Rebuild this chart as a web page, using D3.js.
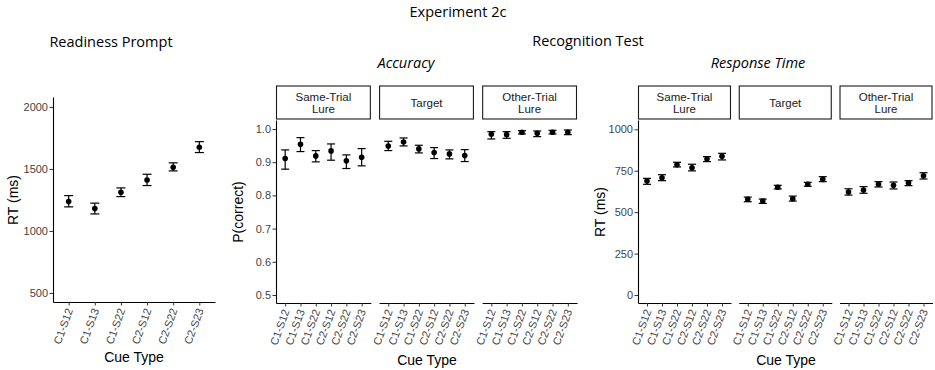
<!DOCTYPE html>
<html>
<head>
<meta charset="UTF-8">
<script src="https://cdn.jsdelivr.net/npm/d3@7"></script>
<style>
  body { margin: 0; background: #fff; }
  svg text { font-family: "Liberation Sans", Arial, sans-serif; }
  .ttl { font-family: "Open Sans", "Noto Sans", sans-serif; }
</style>
</head>
<body>
<script>
var cueTypes = ['C1-S12', 'C1-S13', 'C1-S22', 'C2-S12', 'C2-S22', 'C2-S23']
var lureTypes = ['Same-Trial Lure', 'Target', 'Other-Trial Lure']

// readiness prompt RT (ms)
var readyMean = [1237, 1180, 1312, 1411, 1514, 1675]
var readyLo   = [1194, 1137, 1277, 1366, 1484, 1632]
var readyHi   = [1285, 1224, 1347, 1457, 1549, 1720]

// recognition accuracy, one row per lure type
var accMean = [[0.911, 0.954, 0.919, 0.934, 0.904, 0.915],
               [0.949, 0.961, 0.940, 0.929, 0.925, 0.920],
               [0.984, 0.983, 0.990, 0.987, 0.990, 0.990]]
var accLo   = [[0.879, 0.932, 0.901, 0.906, 0.881, 0.889],
               [0.935, 0.949, 0.928, 0.911, 0.910, 0.902],
               [0.970, 0.972, 0.985, 0.977, 0.985, 0.983]]
var accHi   = [[0.937, 0.974, 0.935, 0.955, 0.922, 0.941],
               [0.963, 0.973, 0.951, 0.944, 0.937, 0.938],
               [0.992, 0.992, 0.995, 0.994, 0.996, 0.997]]

// recognition RT (ms)
var rtMean = [[688, 708, 786, 768, 821, 837],
              [578, 567, 650, 581, 668, 698],
              [622, 634, 668, 662, 676, 720]]
var rtLo   = [[668, 690, 773, 749, 805, 815],
              [563, 553, 640, 567, 656, 684],
              [603, 614, 652, 640, 660, 700]]
var rtHi   = [[704, 726, 801, 789, 835, 855],
              [591, 579, 662, 597, 680, 714],
              [641, 654, 684, 682, 690, 738]]

var accTicks = [0.5, 0.6, 0.7, 0.8, 0.9, 1.0]
var rtTicks = [0, 250, 500, 750, 1000]
var readyTicks = [500, 1000, 1500, 2000]

var W = 935, H = 370
var svg = d3.select('body').append('svg').attr('width', W).attr('height', H)

function rows(mean, lo, hi) {
  return cueTypes.map(function(c, i) { return { cue: c, m: mean[i], lo: lo[i], hi: hi[i] } })
}

// one facet: x range, y scale, data rows, axis flags
function facet(x0, x1, y, data, opts) {
  var g = svg.append('g')
  var x = d3.scalePoint().domain(cueTypes).range([x0, x1]).padding(0.6)
  var yb = y.range()[0], yt = y.range()[1]

  // x axis
  var xa = g.append('g').attr('transform', 'translate(0,' + yb + ')')
    .call(d3.axisBottom(x).tickSize(3.5).tickSizeOuter(0))
  xa.select('.domain').attr('stroke', '#000').attr('stroke-width', 1.1)
  xa.selectAll('.tick line').attr('stroke', '#333').attr('stroke-width', 1)
  xa.selectAll('.tick text')
    .attr('fill', '#444').attr('font-size', 11)
    .attr('text-anchor', 'end').attr('dy', null).attr('y', 0)
    .attr('transform', 'translate(4,8) rotate(-70)')

  if (opts.yaxis) {
    var ya = g.append('g').attr('transform', 'translate(' + x0 + ',0)')
      .call(d3.axisLeft(y).tickValues(opts.ticks).tickFormat(opts.fmt).tickSize(3.5).tickSizeOuter(0))
    ya.select('.domain').attr('stroke', '#000').attr('stroke-width', 1.1)
    ya.selectAll('.tick line').attr('stroke', '#333')
    ya.selectAll('.tick text').attr('fill', '#444').attr('font-size', 11).attr('x', -5)
  }

  if (opts.strip) {
    g.append('rect').attr('x', x0 + 0.5).attr('y', opts.stripTop)
      .attr('width', x1 - x0 - 1).attr('height', yt - opts.stripTop - 1)
      .attr('fill', '#fff').attr('stroke', '#1a1a1a').attr('stroke-width', 1.1)
    var words = opts.strip.split(' ')
    var lines = words.length > 1 ? [words[0], words.slice(1).join(' ')] : words
    var cy = (opts.stripTop + yt) / 2
    lines.forEach(function(t, i) {
      g.append('text').attr('x', (x0 + x1) / 2)
        .attr('y', cy + (i - (lines.length - 1) / 2) * 12.5 + 4)
        .attr('text-anchor', 'middle').attr('font-size', 11.5).attr('fill', '#1a1a1a').text(t)
    })
  }

  var cap = opts.cap
  var pts = g.selectAll('.pt').data(data).enter().append('g').attr('class', 'pt')
  pts.append('line').attr('x1', function(d) { return x(d.cue) }).attr('x2', function(d) { return x(d.cue) })
    .attr('y1', function(d) { return y(d.lo) }).attr('y2', function(d) { return y(d.hi) })
    .attr('stroke', '#000').attr('stroke-width', 1.2)
  ;['lo', 'hi'].forEach(function(k) {
    pts.append('line').attr('x1', function(d) { return x(d.cue) - cap }).attr('x2', function(d) { return x(d.cue) + cap })
      .attr('y1', function(d) { return y(d[k]) }).attr('y2', function(d) { return y(d[k]) })
      .attr('stroke', '#000').attr('stroke-width', 1.2)
  })
  pts.append('circle').attr('cx', function(d) { return x(d.cue) }).attr('cy', function(d) { return y(d.m) })
    .attr('r', 2.8).attr('fill', '#000')
}

function label(x, y, txt, size, cls, extra) {
  var t = svg.append('text').attr('x', x).attr('y', y).attr('text-anchor', 'middle')
    .attr('font-size', size).attr('fill', '#000').text(txt)
  if (cls) t.attr('class', cls)
  if (extra) extra(t)
  return t
}

// titles
label(458, 17, 'Experiment 2c', 14.5, 'ttl')
label(111, 47, 'Readiness Prompt', 14.5, 'ttl')
label(588, 46, 'Recognition Test', 14.5, 'ttl')
label(406, 68, 'Accuracy', 14.5, 'ttl', function(t) { t.attr('font-style', 'italic') })
label(758, 68, 'Response Time', 14.5, 'ttl', function(t) { t.attr('font-style', 'italic') })

// panel 1: readiness prompt
var yReady = d3.scaleLinear().domain([427, 2080]).range([302, 97])
facet(53, 215, yReady, rows(readyMean, readyLo, readyHi),
  { yaxis: true, ticks: readyTicks, fmt: d3.format('d'), cap: 4.5 })
label(134, 362, 'Cue Type', 14)
label(0, 0, 'RT (ms)', 14, null, function(t) { t.attr('transform', 'translate(18,200) rotate(-90)') })

// panel 2: accuracy
var yAcc = d3.scaleLinear().domain([0.4759, 1.0271]).range([303, 120])
var fAcc = d3.scaleBand().domain(lureTypes).range([276, 577]).paddingInner(0.08)
lureTypes.forEach(function(l, i) {
  facet(fAcc(l), fAcc(l) + fAcc.bandwidth(), yAcc, rows(accMean[i], accLo[i], accHi[i]),
    { yaxis: i === 0, ticks: accTicks, fmt: d3.format('.1f'), strip: l, stripTop: 86, cap: 4 })
})
label(427, 365, 'Cue Type', 14)
label(0, 0, 'P(correct)', 14, null, function(t) { t.attr('transform', 'translate(243,212) rotate(-90)') })

// panel 3: response time
var yRt = d3.scaleLinear().domain([-48, 1056]).range([303, 120])
var fRt = d3.scaleBand().domain(lureTypes).range([638, 932.5]).paddingInner(0.077)
lureTypes.forEach(function(l, i) {
  facet(fRt(l), fRt(l) + fRt.bandwidth(), yRt, rows(rtMean[i], rtLo[i], rtHi[i]),
    { yaxis: i === 0, ticks: rtTicks, fmt: d3.format('d'), strip: l, stripTop: 86, cap: 4 })
})
label(786, 365, 'Cue Type', 14)
label(0, 0, 'RT (ms)', 14, null, function(t) { t.attr('transform', 'translate(605,212) rotate(-90)') })
</script>
</body>
</html>
